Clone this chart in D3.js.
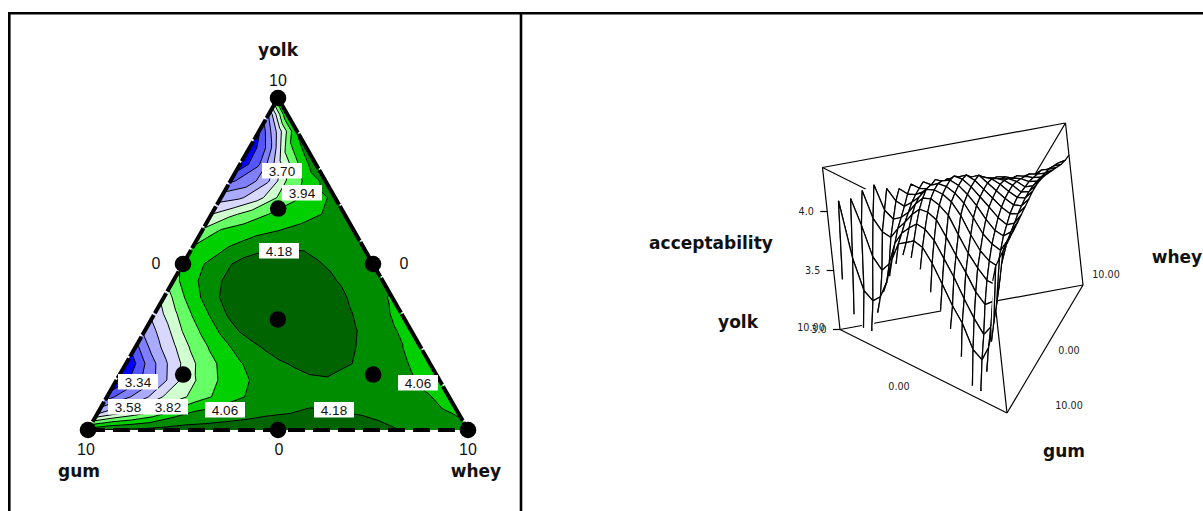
<!DOCTYPE html>
<html>
<head>
<meta charset="utf-8">
<title>Mixture contour and surface</title>
<script src="https://cdn.jsdelivr.net/npm/d3@7"></script>
<style>
  html, body { margin: 0; padding: 0; background: #fff; }
  svg { display: block; }
  .num { font-family: "Liberation Sans", sans-serif; font-size: 16px; fill: #111; }
  .name { font-family: "DejaVu Sans", sans-serif; font-weight: bold; font-size: 17px; fill: #111; }
  .small { font-family: "DejaVu Sans", sans-serif; font-size: 9.6px; fill: #222; }
  .clabel { font-family: "Liberation Sans", sans-serif; font-size: 13.5px; fill: #111; }
</style>
</head>
<body>
<svg id="chart" width="1203" height="511"></svg>
<script>
//Contour levels and the colour above each one
var levels = [3.10, 3.22, 3.34, 3.46, 3.58, 3.70, 3.82, 3.94, 4.06, 4.18];
var bandColors = ['#0000ff', '#5555ff', '#8080ff', '#aaaaff', '#d8d8ff', '#d0ffd0', '#66ff66', '#00d000', '#008c00', '#006400'];
var lowestColor = '#0000c0';

//Acceptability. One row per yolk step (0 to 10 by 0.5),
//each row runs from whey = 0 by 0.5 until gum is used up
var acceptability = [
  [4.12,4.19,4.20,4.21,4.22,4.225,4.23,4.24,4.25,4.26,4.27,4.28,4.28,4.27,4.25,4.22,4.19,4.16,4.13,4.11,4.10],
  [3.57,3.68,3.77,3.87,4.00,4.08,4.10,4.12,4.14,4.165,4.178,4.19,4.19,4.185,4.17,4.15,4.13,4.11,4.08,4.05],
  [3.28,3.43,3.55,3.71,3.80,3.90,3.98,4.05,4.09,4.13,4.15,4.16,4.15,4.14,4.13,4.11,4.085,4.065,4.01],
  [3.08,3.29,3.45,3.65,3.80,3.91,4.00,4.06,4.115,4.15,4.17,4.175,4.172,4.15,4.12,4.085,4.05,3.99],
  [3.09,3.34,3.55,3.72,3.87,3.96,4.05,4.12,4.17,4.19,4.20,4.20,4.178,4.14,4.09,4.055,3.99],
  [3.30,3.53,3.68,3.85,3.96,4.06,4.15,4.20,4.22,4.23,4.23,4.21,4.16,4.10,4.065,3.99],
  [3.50,3.64,3.83,3.96,4.08,4.19,4.24,4.26,4.27,4.27,4.26,4.19,4.13,4.07,4.03],
  [3.62,3.79,3.95,4.08,4.21,4.27,4.29,4.30,4.30,4.28,4.21,4.14,4.08,4.03],
  [3.74,3.93,4.07,4.19,4.26,4.30,4.31,4.31,4.29,4.23,4.15,4.09,4.05],
  [3.90,4.03,4.13,4.22,4.28,4.30,4.30,4.27,4.215,4.155,4.11,4.06],
  [3.96,4.05,4.14,4.21,4.25,4.27,4.25,4.195,4.15,4.12,4.09],
  [3.95,4.00,4.07,4.13,4.165,4.17,4.16,4.13,4.11,4.10],
  [3.84,3.955,3.99,4.03,4.06,4.09,4.10,4.10,4.10],
  [3.70,3.79,3.87,3.94,3.98,4.02,4.07,4.10],
  [3.53,3.56,3.66,3.83,3.93,4.03,4.08],
  [3.32,3.40,3.57,3.84,3.97,4.10],
  [3.13,3.33,3.65,3.92,4.15],
  [3.12,3.38,3.88,4.12],
  [3.20,3.62,4.07],
  [3.46,4.07],
  [4.05]
];

//Design points as [gum, whey, yolk]
var designPoints = [
  [0,0,10],[10,0,0],[0,10,0],
  [5,0,5],[0,5,5],[5,5,0],
  [1.67,1.67,6.67],[3.33,3.33,3.33],[6.67,1.67,1.67],[1.67,6.67,1.67]
];
var contourLabels = ['3.70', '3.94', '4.18', '3.34', '3.58', '3.82', '4.06', '4.18', '4.06'];
var zTicks = [3.0, 3.5, 4.0];
var corner = ['10', '10', '10'];

var svg = d3.select('#chart');

//Frame
var frame = svg.append('g').attr('stroke', '#000').attr('stroke-width', 2.6).attr('fill', 'none');
frame.append('path').attr('d', 'M9.3,511V13.2H1203');
frame.append('path').attr('d', 'M521,13V511');

/********** Ternary contour **********/
var xT = d3.scaleLinear().domain([0, 10]).range([88, 468]);
var yT = d3.scaleLinear().domain([0, 10]).range([430, 98]);
var ternX = function(whey, yolk){ return xT(whey + yolk / 2); };

var N = acceptability.length;
var flat = [];
for(var i = 0; i < N; i++){
  for(var k = 0; k < N; k++){
    //Past the gum = 0 edge keep the last value, it gets clipped off anyway
    var row = acceptability[i];
    flat.push(row[Math.min(k, row.length - 1)]);
  }
}

var contours = d3.contours().size([N, N]).thresholds(levels)(flat);
var gridPath = d3.geoPath(d3.geoTransform({
  point: function(x, y){
    var whey = (x - 0.5) / 2, yolk = (y - 0.5) / 2;
    this.stream.point(ternX(whey, yolk), yT(yolk));
  }
}));

var triangle = [[0, 10], [0, 0], [10, 0]].map(function(d){ return [ternX(d[0], d[1]), yT(d[1])]; });
svg.append('clipPath').attr('id', 'triClip').append('polygon').attr('points', triangle.join(' '));

var map = svg.append('g').attr('clip-path', 'url(#triClip)');
map.append('polygon').attr('points', triangle.join(' ')).attr('fill', lowestColor);
map.selectAll('path.band').data(contours).enter().append('path')
  .attr('class', 'band')
  .attr('d', gridPath)
  .attr('fill', function(d, idx){ return bandColors[idx]; })
  .attr('stroke', '#000')
  .attr('stroke-width', 1);

//Dashed edges, the slanted ones only show small breaks
var edgeLine = d3.line();
var edges = svg.append('g').attr('fill', 'none').attr('stroke', '#000').attr('stroke-width', 4);
edges.append('path').attr('d', edgeLine([triangle[1], triangle[2]])).attr('stroke-dasharray', '17,8');
edges.append('path').attr('d', edgeLine([triangle[0], triangle[1]])).attr('stroke-dasharray', '23,2');
edges.append('path').attr('d', edgeLine([triangle[0], triangle[2]])).attr('stroke-dasharray', '40,1.5');

//Design point dots
svg.selectAll('circle.design').data(designPoints).enter().append('circle')
  .attr('class', 'design')
  .attr('cx', function(d){ return ternX(d[1], d[2]); })
  .attr('cy', function(d){ return yT(d[2]); })
  .attr('r', 8.3);

//Contour labels, boxes sit on the line they name
var labelCenters = [[282,171],[302,193],[279,251],[138,382],[128,407],[168,407],[225,410],[334,410],[418,383]];
var labelG = svg.selectAll('g.clabel').data(contourLabels).enter().append('g')
  .attr('class', 'clabel')
  .attr('transform', function(d, idx){ return 'translate(' + labelCenters[idx] + ')'; });
labelG.append('rect').attr('x', -20).attr('y', -8).attr('width', 40).attr('height', 15.5).attr('fill', '#fff');
labelG.append('text').attr('class', 'clabel').attr('text-anchor', 'middle').attr('y', 4.5).text(function(d){ return d; });

var putText = function(cls, x, y, txt, anchor){
  svg.append('text').attr('class', cls).attr('x', x).attr('y', y)
    .attr('text-anchor', anchor || 'middle').text(txt);
};
putText('num', 278, 86, corner[0]);
putText('num', 156, 269, '0');
putText('num', 404, 269, '0');
putText('num', 86, 455, corner[1]);
putText('num', 279, 455, '0');
putText('num', 468, 455, corner[2]);
putText('name', 278, 56, 'yolk');
putText('name', 79, 477, 'gum');
putText('name', 476, 477, 'whey');

/********** 3D surface **********/
var A = [840, 329.5], B = [1007, 413], C = [1083, 285]; //yolk, gum, whey floor corners
var lift = d3.scaleLinear().domain([3, 4]).range([0, 118]);
var project = function(gum, whey, yolk, z){
  var h = lift(z);
  return [
    (A[0] * yolk + B[0] * gum + C[0] * whey) / 10 - h * 0.108,
    (A[1] * yolk + B[1] * gum + C[1] * whey) / 10 - h
  ];
};
var node = function(i, k){
  return project(10 - i / 2 - k / 2, k / 2, i / 2, acceptability[i][k]);
};

var zTop = 4.373;
var boxLine = d3.line();
var box = svg.append('g').attr('fill', 'none').attr('stroke', '#000').attr('stroke-width', 1.2);
var boxEdges = [
  [[0,0,10,3],[10,0,0,3]], [[10,0,0,3],[0,10,0,3]], [[0,10,0,3],[0,0,10,3]],
  [[0,0,10,zTop],[0,10,0,zTop]], [[0,0,10,zTop],[10,0,0,zTop]], [[0,10,0,zTop],[10,0,0,zTop]],
  [[0,0,10,3],[0,0,10,zTop]], [[0,10,0,3],[0,10,0,zTop]], [[10,0,0,3],[10,0,0,zTop]]
];
boxEdges.forEach(function(e){
  box.append('path').attr('d', boxLine(e.map(function(p){ return project(p[0], p[1], p[2], p[3]); })));
});

//Mesh cells, runs of constant yolk and constant whey. The whey = 0 run is not drawn
//so the yolk runs end loose along that edge, and the gum = 0 edge is left as steps.
var cells = [];
for(var ci = 0; ci < N - 1; ci++){
  var rowLen = acceptability[ci].length;
  for(var ck = 0; ck < rowLen - 1; ck++){
    var last = ck === rowLen - 2;
    var pts;
    if(last && ck === 0) pts = [node(ci, 1), node(ci, 0)];
    else if(last) pts = [node(ci, ck + 1), node(ci, ck), node(ci + 1, ck)];
    else if(ck === 0) pts = [node(ci + 1, 0), node(ci + 1, 1), node(ci, 1), node(ci, 0)];
    else pts = [node(ci, ck), node(ci, ck + 1), node(ci + 1, ck + 1), node(ci + 1, ck), node(ci, ck)];
    var yolkMid = ci / 2 + 0.25, wheyMid = ck / 2 + 0.25;
    var depth = project(10 - yolkMid - wheyMid, wheyMid, yolkMid, 3)[1];
    cells.push({ pts: pts, depth: depth });
  }
}
cells.sort(function(a, b){ return a.depth - b.depth; });
svg.append('g').selectAll('path').data(cells).enter().append('path')
  .attr('d', function(d){ return boxLine(d.pts); })
  .attr('fill', '#fff').attr('stroke', '#000').attr('stroke-width', 1.25).attr('stroke-linejoin', 'round');

//Z axis ticks
zTicks.forEach(function(t){
  var p = project(0, 0, 10, t);
  svg.append('line').attr('x1', p[0] - 7).attr('x2', p[0]).attr('y1', p[1]).attr('y2', p[1]).attr('stroke', '#000').attr('stroke-width', 1.2);
  putText('small', p[0] - 21, p[1] + 3, t.toFixed(1));
});

putText('small', 811, 331, '10.00');
putText('small', 899, 390, '0.00');
putText('small', 1069, 354, '0.00');
putText('small', 1069, 409, '10.00');
putText('small', 1106, 278, '10.00');
putText('name', 711, 249, 'acceptability');
putText('name', 1177, 263, 'whey');
putText('name', 738, 328, 'yolk');
putText('name', 1064, 457, 'gum');
</script>
</body>
</html>
